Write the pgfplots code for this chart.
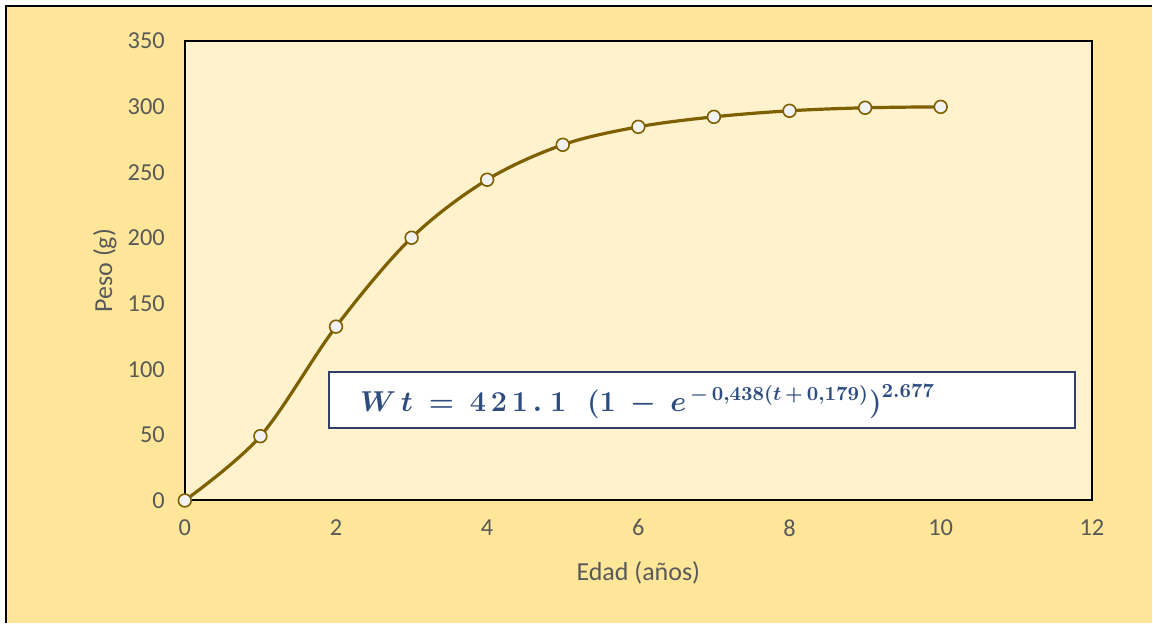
\documentclass[border=0pt]{standalone}
\usepackage{pgfplots}
\pgfplotsset{compat=1.18}
\usepackage{amsmath}
\usepackage{bm}
\usepackage{fontspec}
\setmainfont{Carlito}
\definecolor{bgout}{HTML}{FFE699}
\definecolor{bgin}{HTML}{FFF2CC}
\definecolor{linec}{HTML}{7F6000}
\definecolor{txt}{HTML}{595959}
\definecolor{eqc}{HTML}{2E4C80}
\definecolor{boxc}{HTML}{2F3F6A}
\pgfplotstableread{
x y
0 0
1 49
2 132.4
3 200.1
4 244.3
5 270.9
6 284.6
7 292.2
8 296.8
9 299.1
10 299.8
}\datatab
\begin{document}
\begin{tikzpicture}[x=0.5pt,y=0.5pt]
\fill[white] (0,0) rectangle (1153,624);
\fill[bgout] (6,0) rectangle (1153,618);
\draw[line width=1.2pt,black] (6,0) -- (6,618) -- (1153,618);
\begin{axis}[
  at={(92.5pt,61.5pt)}, anchor=south west,
  scale only axis, width=454pt, height=230pt,
  xmin=0, xmax=12, ymin=0, ymax=350,
  xtick={0,2,...,12}, ytick={0,50,...,350},
  major tick length=0pt,
  axis line style={black,line width=1pt},
  axis background/.style={fill=bgin},
  clip=false,
  tick label style={font=\fontsize{12.2}{14}\selectfont, text=txt},
  /pgf/number format/assume math mode=true,
  yticklabel style={xshift=-6.5pt},
  xticklabel style={yshift=-6pt},
  every axis x label/.style={at={(axis description cs:0.5,-0.1565)},anchor=center},
  every axis y label/.style={at={(axis description cs:-0.0881,0.5)},anchor=center,rotate=90},
  label style={font=\fontsize{13}{15}\selectfont, text=txt},
  xlabel={Edad (años)}, ylabel={Peso (g)},
]
\addplot[linec, line width=1.6pt, smooth, tension=0.55, mark=*, mark size=3.2pt,
  mark options={fill=white!95!black, draw=linec, line width=0.8pt}] table[x=x,y=y] {\datatab};
\end{axis}
\draw[boxc, fill=white, line width=1pt] (329,196) rectangle (1076,252);
\node[anchor=west, inner sep=0pt, text=eqc, font=\fontsize{14}{16}\selectfont] at (360,222)
  {$\bm{W\,t \;=\; 4\,2\,1\,.\;1\;\;\, (1\;-\;e^{\,-\,0,438(t\,+\,0,179)})^{2.677}}$};
\end{tikzpicture}
\end{document}
